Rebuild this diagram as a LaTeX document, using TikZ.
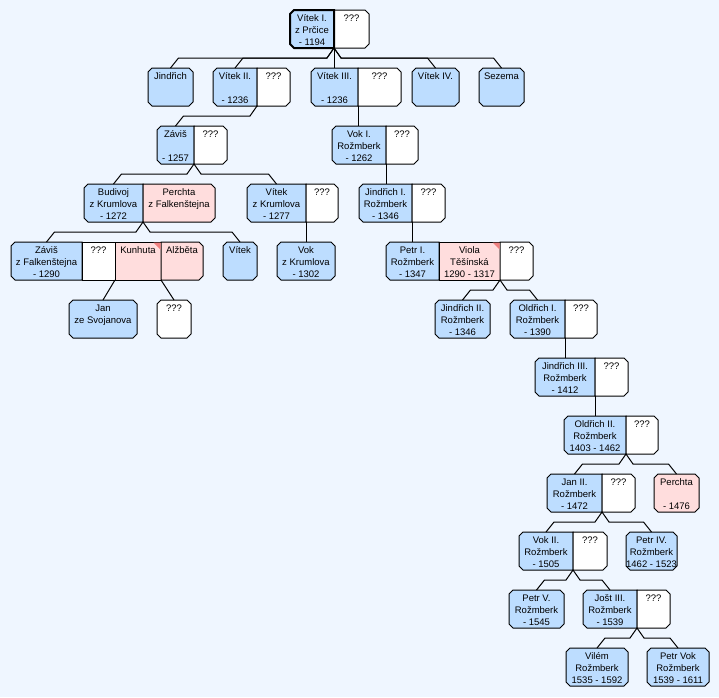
\documentclass[tikz,border=0pt]{standalone}
\usepackage{fontspec}
\setmainfont{Liberation Sans}
\usetikzlibrary{calc}
\pgfdeclarelayer{background}
\pgfsetlayers{background,main}
\definecolor{bgc}{RGB}{239,246,255}
\definecolor{bluec}{RGB}{189,221,255}
\definecolor{pinkc}{RGB}{255,221,221}
\definecolor{tric}{RGB}{240,128,128}
\newcommand\threel[3]{\renewcommand\arraystretch{0}\begin{tabular}[c]{@{}c@{}}\rule[-3pt]{0pt}{13pt}#1\\\rule[-3pt]{0pt}{12pt}#2\\\rule[-2pt]{0pt}{11pt}#3\end{tabular}}
% chamfered outline of a cell node: name, nw, ne, se, sw chamfers, style
\newcommand\cellbox[6]{\path[#6] ($(#1.north west)+(#2,0)$) -- ($(#1.north east)+(-#3,0)$) -- ($(#1.north east)+(0,#3)$) -- ($(#1.south east)+(0,-#4)$) -- ($(#1.south east)+(-#4,0)$) -- ($(#1.south west)+(#5,0)$) -- ($(#1.south west)+(0,-#5)$) -- ($(#1.north west)+(0,#2)$) -- cycle;}
\newcommand\cellA[2]{\cellbox{#1}{4}{4}{4}{4}{#2}}
\newcommand\cellL[2]{\cellbox{#1}{4}{0}{0}{4}{#2}}
\newcommand\cellR[2]{\cellbox{#1}{0}{4}{4}{0}{#2}}
\newcommand\cellN[2]{\cellbox{#1}{0}{0}{0}{0}{#2}}
\begin{document}
\begin{tikzpicture}[x=1pt,y=-1pt,
  cell/.style={rectangle, inner sep=0pt, outer sep=0pt, minimum height=38pt,
    anchor=north west, font=\fontsize{9.5}{12}\selectfont},
  fb/.style={fill=bluec, draw=black, line width=1pt},
  fp/.style={fill=pinkc, draw=black, line width=1pt},
  fw/.style={fill=white, draw=black, line width=1pt},
  lnk/.style={line width=1pt, draw=black},
  dl/.style={to path={-- ++(-7,10) -- ($(\tikztotarget)+(8,-10)$) -- (\tikztotarget)}},
  dr/.style={to path={-- ++(7,10) -- ($(\tikztotarget)+(-8,-10)$) -- (\tikztotarget)}},
  tri/.style={fill=tric}
]
\useasboundingbox (0,0) rectangle (719,697);

% row 0
\node[cell,minimum width=44pt] (vitek1) at (290,10) {\threel{Vítek I.}{z Prčice}{- 1194}};
\node[cell,minimum width=35pt] (vitek1w) at (334,10) {\threel{???}{}{}};
% row 1
\node[cell,minimum width=45pt] (jindrich) at (148,68) {\threel{Jindřich}{}{}};
\node[cell,minimum width=44pt] (vitek2) at (213,68) {\threel{Vítek II.}{}{- 1236}};
\node[cell,minimum width=33pt] (vitek2w) at (257,68) {\threel{???}{}{}};
\node[cell,minimum width=47pt] (vitek3) at (311,68) {\threel{Vítek III.}{}{- 1236}};
\node[cell,minimum width=43pt] (vitek3w) at (358,68) {\threel{???}{}{}};
\node[cell,minimum width=47pt] (vitek4) at (412,68) {\threel{Vítek IV.}{}{}};
\node[cell,minimum width=45pt] (sezema) at (479,68) {\threel{Sezema}{}{}};
% row 2
\node[cell,minimum width=37pt] (zavis) at (157,126) {\threel{Záviš}{}{- 1257}};
\node[cell,minimum width=33pt] (zavisw) at (194,126) {\threel{???}{}{}};
\node[cell,minimum width=54pt] (vok1) at (332,126) {\threel{Vok I.}{Rožmberk}{- 1262}};
\node[cell,minimum width=32pt] (vok1w) at (386,126) {\threel{???}{}{}};
% row 3
\node[cell,minimum width=59pt] (budivoj) at (84,184) {\threel{Budivoj}{z Krumlova}{- 1272}};
\node[cell,minimum width=72pt] (perchta) at (143,184) {\threel{Perchta}{z Falkenštejna}{}};
\node[cell,minimum width=59pt] (vitekk) at (247,184) {\threel{Vítek}{z Krumlova}{- 1277}};
\node[cell,minimum width=32pt] (vitekkw) at (306,184) {\threel{???}{}{}};
\node[cell,minimum width=53pt] (jindrich1) at (359,184) {\threel{Jindřich I.}{Rožmberk}{- 1346}};
\node[cell,minimum width=33pt] (jindrich1w) at (412,184) {\threel{???}{}{}};
% row 4
\node[cell,minimum width=71pt] (zavisf) at (11,242) {\threel{Záviš}{z Falkenštejna}{- 1290}};
\node[cell,minimum width=33pt] (zavisfw) at (82,242) {\threel{???}{}{}};
\node[cell,minimum width=46pt] (kunhuta) at (115,242) {\threel{Kunhuta}{}{}};
\node[cell,minimum width=42pt] (alzbeta) at (161,242) {\threel{Alžběta}{}{}};
\node[cell,minimum width=34pt] (vitek) at (223,242) {\threel{Vítek}{}{}};
\node[cell,minimum width=58pt] (vokk) at (277,242) {\threel{Vok}{z Krumlova}{- 1302}};
\node[cell,minimum width=53pt] (petr1) at (386,242) {\threel{Petr I.}{Rožmberk}{- 1347}};
\node[cell,minimum width=61pt] (viola) at (439,242) {\threel{Viola}{Těšínská}{1290 - 1317}};
\node[cell,minimum width=33pt] (petr1w) at (500,242) {\threel{???}{}{}};
% row 5
\node[cell,minimum width=68pt] (jan) at (69,300) {\threel{Jan}{ze Svojanova}{}};
\node[cell,minimum width=34pt] (unk) at (157,300) {\threel{???}{}{}};
\node[cell,minimum width=55pt] (jindrich2) at (435,300) {\threel{Jindřich II.}{Rožmberk}{- 1346}};
\node[cell,minimum width=55pt] (oldrich1) at (510,300) {\threel{Oldřich I.}{Rožmberk}{- 1390}};
\node[cell,minimum width=32pt] (oldrich1w) at (565,300) {\threel{???}{}{}};
% row 6
\node[cell,minimum width=60pt] (jindrich3) at (535,358) {\threel{Jindřich III.}{Rožmberk}{- 1412}};
\node[cell,minimum width=33pt] (jindrich3w) at (595,358) {\threel{???}{}{}};
% row 7
\node[cell,minimum width=62pt] (oldrich2) at (564,416) {\threel{Oldřich II.}{Rožmberk}{1403 - 1462}};
\node[cell,minimum width=32pt] (oldrich2w) at (626,416) {\threel{???}{}{}};
% row 8
\node[cell,minimum width=55pt] (jan2) at (547,474) {\threel{Jan II.}{Rožmberk}{- 1472}};
\node[cell,minimum width=33pt] (jan2w) at (602,474) {\threel{???}{}{}};
\node[cell,minimum width=45pt] (perchta2) at (654,474) {\threel{Perchta}{}{- 1476}};
% row 9
\node[cell,minimum width=54pt] (vok2) at (519,532) {\threel{Vok II.}{Rožmberk}{- 1505}};
\node[cell,minimum width=34pt] (vok2w) at (573,532) {\threel{???}{}{}};
\node[cell,minimum width=51pt] (petr4) at (626,532) {\threel{Petr IV.}{Rožmberk}{1462 - 1523}};
% row 10
\node[cell,minimum width=55pt] (petr5) at (509,590) {\threel{Petr V.}{Rožmberk}{- 1545}};
\node[cell,minimum width=54pt] (jost3) at (583,590) {\threel{Jošt III.}{Rožmberk}{- 1539}};
\node[cell,minimum width=33pt] (jost3w) at (637,590) {\threel{???}{}{}};
% row 11
\node[cell,minimum width=62pt] (vilem) at (566,648) {\threel{Vilém}{Rožmberk}{1535 - 1592}};
\node[cell,minimum width=62pt] (petrvok) at (647,648) {\threel{Petr Vok}{Rožmberk}{1539 - 1611}};

\begin{pgfonlayer}{background}
\fill[bgc] (0,0) rectangle (719,697);
\cellR{vitek1w}{fw}
\cellL{vitek1}{fb,line width=2pt}
\cellA{jindrich}{fb}
\cellL{vitek2}{fb} \cellR{vitek2w}{fw}
\cellL{vitek3}{fb} \cellR{vitek3w}{fw}
\cellA{vitek4}{fb}
\cellA{sezema}{fb}
\cellL{zavis}{fb} \cellR{zavisw}{fw}
\cellL{vok1}{fb} \cellR{vok1w}{fw}
\cellL{budivoj}{fb} \cellR{perchta}{fp}
\cellL{vitekk}{fb} \cellR{vitekkw}{fw}
\cellL{jindrich1}{fb} \cellR{jindrich1w}{fw}
\cellL{zavisf}{fb} \cellN{zavisfw}{fw} \cellN{kunhuta}{fp} \cellR{alzbeta}{fp}
\cellA{vitek}{fb}
\cellA{vokk}{fb}
\cellL{petr1}{fb} \cellN{viola}{fp} \cellR{petr1w}{fw}
\cellA{jan}{fb}
\cellA{unk}{fw}
\cellA{jindrich2}{fb}
\cellL{oldrich1}{fb} \cellR{oldrich1w}{fw}
\cellL{jindrich3}{fb} \cellR{jindrich3w}{fw}
\cellL{oldrich2}{fb} \cellR{oldrich2w}{fw}
\cellL{jan2}{fb} \cellR{jan2w}{fw}
\cellA{perchta2}{fp}
\cellL{vok2}{fb} \cellR{vok2w}{fw}
\cellA{petr4}{fb}
\cellA{petr5}{fb}
\cellL{jost3}{fb} \cellR{jost3w}{fw}
\cellA{vilem}{fb}
\cellA{petrvok}{fb}
% marks
\fill[tri] ($(kunhuta.north east)+(-0.5,0.5)$) -- ++(-7,0) -- ++(7,7) -- cycle;
\fill[tri] ($(viola.north east)+(-0.5,0.5)$) -- ++(-7,0) -- ++(7,7) -- cycle;
\end{pgfonlayer}

% connectors
\draw[lnk] (vitek1.south east) to[dl] (jindrich.north);
\draw[lnk] (vitek1.south east) to[dl] (vitek2.north);
\draw[lnk] (vitek1.south east) -- (vitek1.south east |- vitek3.north);
\draw[lnk] (vitek1.south east) to[dr] (vitek4.north);
\draw[lnk] (vitek1.south east) to[dr] (sezema.north);
\draw[lnk] (vitek2.south east) to[dl] (zavis.north);
\draw[lnk] (vitek3.south east) -- (vitek3.south east |- vok1.north);
\draw[lnk] (zavis.south east) to[dl] (budivoj.north);
\draw[lnk] (zavis.south east) to[dr] (vitekk.north);
\draw[lnk] (vok1.south east) -- (vok1.south east |- jindrich1.north);
\draw[lnk] (budivoj.south east) to[dl] (zavisf.north);
\draw[lnk] (budivoj.south east) to[dr] (vitek.north);
\draw[lnk] (vitekk.south east) -- (vitekk.south east |- vokk.north);
\draw[lnk] (jindrich1.south east) -- (jindrich1.south east |- petr1.north);
\draw[lnk] (zavisfw.south east) -- (jan.north);
\draw[lnk] (kunhuta.south east) -- (unk.north);
\draw[lnk] (viola.south east) to[dl] (jindrich2.north);
\draw[lnk] (viola.south east) to[dr] (oldrich1.north);
\draw[lnk] (oldrich1.south east) -- (oldrich1.south east |- jindrich3.north);
\draw[lnk] (jindrich3.south east) -- (jindrich3.south east |- oldrich2.north);
\draw[lnk] (oldrich2.south east) to[dl] (jan2.north);
\draw[lnk] (oldrich2.south east) to[dr] (perchta2.north);
\draw[lnk] (jan2.south east) to[dl] (vok2.north);
\draw[lnk] (jan2.south east) to[dr] (petr4.north);
\draw[lnk] (vok2.south east) to[dl] (petr5.north);
\draw[lnk] (vok2.south east) to[dr] (jost3.north);
\draw[lnk] (jost3.south east) to[dl] (vilem.north);
\draw[lnk] (jost3.south east) to[dr] (petrvok.north);
\end{tikzpicture}
\end{document}
